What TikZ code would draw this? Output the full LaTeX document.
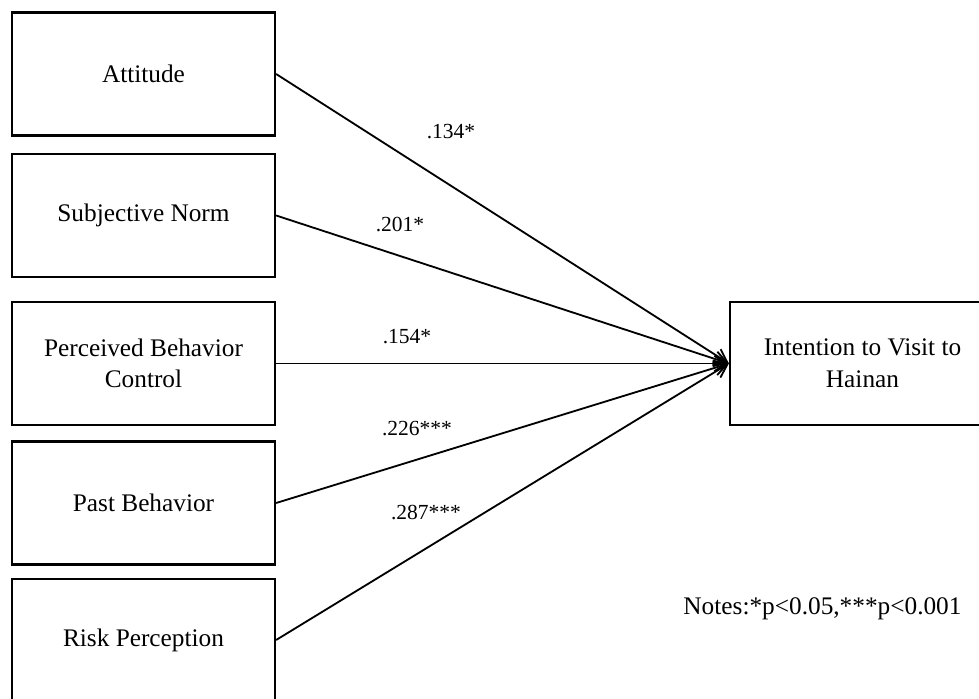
\documentclass[tikz,border=0pt]{standalone}
\usepackage{fontspec}
\setmainfont{Liberation Serif}
\usetikzlibrary{arrows.meta}

\begin{document}
\begin{tikzpicture}[
    factor/.style={rectangle,draw=black,line width=1.6pt,minimum width=6.575cm,
      minimum height=3.075cm,align=center,inner sep=2pt,
      font=\fontsize{18}{22.5}\selectfont},
    coef/.style={inner sep=0pt,font=\fontsize{15.3}{18}\selectfont},
    arrow/.style={-{Straight Barb[length=3.2mm,width=3.8mm]},line width=1.3pt}
  ]
    \clip (0,0) rectangle (24.475,-17.475);
    \node[factor] (attitude) at (3.5875,-1.85) {Attitude};
    \node[factor] (norm) at (3.5875,-5.3875) {Subjective Norm};
    \node[factor] (control) at (3.5875,-9.0875) {Perceived Behavior\\Control};
    \node[factor] (past) at (3.5875,-12.575) {Past Behavior};
    \node[factor,minimum height=3.05cm] (risk) at (3.5875,-16.0) {Risk Perception};
    \node[factor,minimum width=6.625cm] (intention) at (21.5625,-9.0875) {Intention to Visit to\\Hainan};

    \draw[arrow] (attitude.east) -- (intention.west);
    \draw[arrow] (norm.east) -- (intention.west);
    \draw[arrow] (control.east) -- (intention.west);
    \draw[arrow] (past.east) -- (intention.west);
    \draw[arrow] (risk.east) -- (intention.west);

    \node[coef] (c1) at (11.275,-3.3) {.134*};
    \node[coef] (c2) at (10.0,-5.625) {.201*};
    \node[coef] (c3) at (10.175,-8.425) {.154*};
    \node[coef] (c4) at (10.425,-10.725) {.226***};
    \node[coef] (c5) at (10.65,-12.825) {.287***};

    \node[coef,font=\fontsize{18}{22}\selectfont] (notes) at (20.5625,-15.225) {Notes:*p<0.05,***p<0.001};
  \end{tikzpicture}
\end{document}
